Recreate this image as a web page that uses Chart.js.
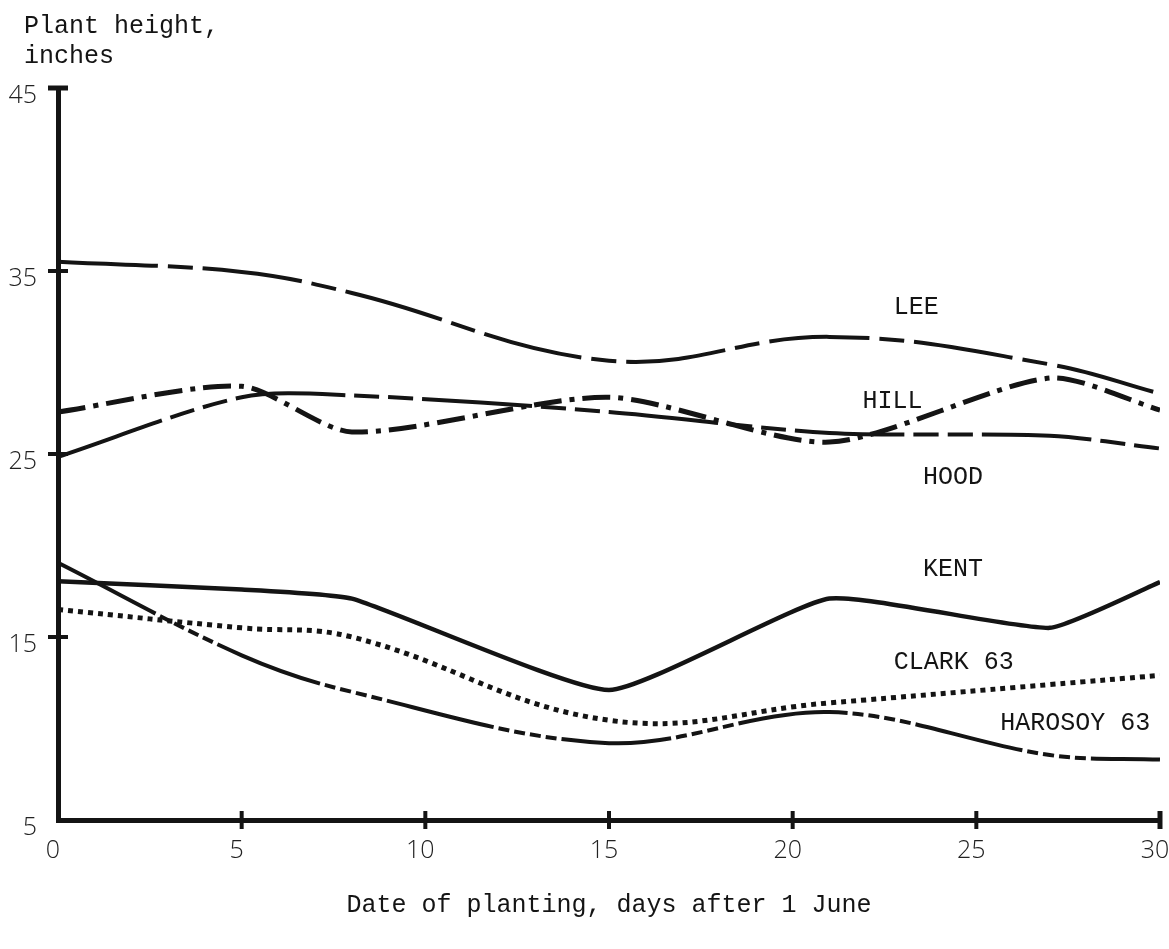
<!DOCTYPE html>
<html>
<head>
<meta charset="utf-8">
<title>Plant height by date of planting</title>
<script src="https://cdn.jsdelivr.net/npm/chart.js@4/dist/chart.umd.min.js"></script>
<style>
  html, body { margin: 0; padding: 0; background: #fff; }
  canvas { display: block; }
</style>
</head>
<body>
<canvas id="chart" width="1169" height="949"></canvas>
<script>
// Planting dates (days after 1 June) and mean plant height (inches) per variety
const plantingDays = [0, 5, 8, 15, 21, 27, 30];
const lee       = [35.5, 34.95, 33.8, 30.1, 31.4, 29.9, 28.3];
const hill      = [27.3, 28.7, 26.2, 28.1, 25.65, 29.15, 27.4];
const hood      = [24.85, 28.1, 28.2, 27.3, 26.15, 26.0, 25.3];
const kent      = [18.05, 17.6, 17.1, 12.1, 17.1, 15.5, 18.0];
const clark63   = [16.5, 15.5, 15.0, 10.45, 11.4, 12.4, 12.9];
const harosoy63 = [19.05, 14.0, 12.0, 9.2, 10.9, 8.55, 8.3];

const xTickValues = [0, 5, 10, 15, 20, 25, 30];
const yTickValues = [5, 15, 25, 35, 45];

const INK = '#141414';
const MONO = "'Liberation Mono', 'DejaVu Sans Mono', monospace";
const LETTER = "'Open Sans', 'DejaVu Sans', sans-serif";

const toPoints = values => values.map((v, i) => ({ x: plantingDays[i], y: v }));

function series(label, values, dash, width, tension) {
  return {
    label,
    data: toPoints(values),
    borderColor: INK,
    borderWidth: width,
    borderDash: dash,
    borderCapStyle: 'butt',
    borderJoinStyle: 'round',
    tension,
    pointRadius: 0,
    fill: false
  };
}

// Name tags written beside each curve (day, height)
const curveNames = [
  { text: 'LEE',        day: 22.75, value: 33.0 },
  { text: 'HILL',       day: 21.9,  value: 27.9 },
  { text: 'HOOD',       day: 23.55, value: 23.75 },
  { text: 'KENT',       day: 23.55, value: 18.7 },
  { text: 'CLARK 63',   day: 22.75, value: 13.6 },
  { text: 'HAROSOY 63', day: 25.65, value: 10.3 }
];

const sketchPlugin = {
  id: 'sketch',
  afterDraw(chart) {
    const { ctx, scales: { x, y } } = chart;
    ctx.save();
    ctx.fillStyle = INK;
    ctx.strokeStyle = INK;

    // crossing tick bars on the axes
    const axisX = x.getPixelForValue(0);
    const axisY = y.getPixelForValue(5);
    ctx.lineCap = 'butt';
    yTickValues.filter(v => v !== 5).forEach(v => {
      const py = y.getPixelForValue(v);
      ctx.lineWidth = v === 45 ? 5 : 4;
      ctx.beginPath();
      ctx.moveTo(axisX - 10, py);
      ctx.lineTo(axisX + 10, py);
      ctx.stroke();
    });
    xTickValues.filter(v => v !== 0).forEach(v => {
      const px = x.getPixelForValue(v);
      ctx.lineWidth = v === 30 ? 5 : 4;
      ctx.beginPath();
      ctx.moveTo(px, axisY - 9);
      ctx.lineTo(px, axisY + 9);
      ctx.stroke();
    });

    // vertical axis caption, set horizontally above the axis
    ctx.font = `25px ${MONO}`;
    ctx.textAlign = 'left';
    ctx.textBaseline = 'alphabetic';
    ctx.fillText('Plant height,', 24, 33);
    ctx.fillText('inches', 24, 63);

    // curve names
    ctx.textBaseline = 'middle';
    curveNames.forEach(n => {
      ctx.fillText(n.text, x.getPixelForValue(n.day), y.getPixelForValue(n.value));
    });
    ctx.restore();
  }
};

new Chart(document.getElementById('chart'), {
  type: 'line',
  data: {
    datasets: [
      series('LEE',        lee,       [100, 10, 25, 10], 4, 0.4),
      series('HILL',       hill,      [28, 8, 5, 8], 5, 0.25),
      series('HOOD',       hood,      [110, 9, 25, 9, 25, 9], 4, 0.3),
      series('KENT',       kent,      [], 4.5, 0.15),
      series('CLARK 63',   clark63,   [5, 5], 5, 0.4),
      series('HAROSOY 63', harosoy63, [110, 5, 11, 5, 11, 5, 11, 5, 11, 5], 4, 0.35)
    ]
  },
  options: {
    responsive: false,
    animation: false,
    devicePixelRatio: 1,
    layout: { padding: { left: 0, right: 9, top: 88, bottom: 0 } },
    plugins: {
      legend: { display: false },
      tooltip: { enabled: false },
      title: { display: false }
    },
    scales: {
      x: {
        type: 'linear',
        min: 0,
        max: 30,
        afterBuildTicks: s => { s.ticks = xTickValues.map(v => ({ value: v })); },
        afterFit: s => { s.height = 129; s.paddingLeft = 0; s.paddingRight = 0; },
        grid: { display: true, drawOnChartArea: false, drawTicks: false },
        border: { display: true, color: INK, width: 5 },
        ticks: {
          color: '#222',
          font: { family: LETTER, size: 25, weight: '300' },
          padding: 16,
          labelOffset: -5,
          maxRotation: 0,
          autoSkip: false
        },
        title: {
          display: true,
          text: 'Date of planting, days after 1 June',
          color: INK,
          font: { family: MONO, size: 25 },
          padding: { top: 0, bottom: 29 }
        }
      },
      y: {
        type: 'linear',
        min: 5,
        max: 45,
        afterBuildTicks: s => { s.ticks = yTickValues.map(v => ({ value: v })); },
        afterFit: s => { s.width = 58; s.paddingTop = 0; s.paddingBottom = 0; },
        grid: { display: true, drawOnChartArea: false, drawTicks: false },
        border: { display: true, color: INK, width: 5 },
        ticks: {
          color: '#222',
          font: { family: LETTER, size: 25, weight: '300' },
          padding: 21,
          labelOffset: 8,
          autoSkip: false
        }
      }
    }
  },
  plugins: [sketchPlugin]
});
</script>
</body>
</html>
